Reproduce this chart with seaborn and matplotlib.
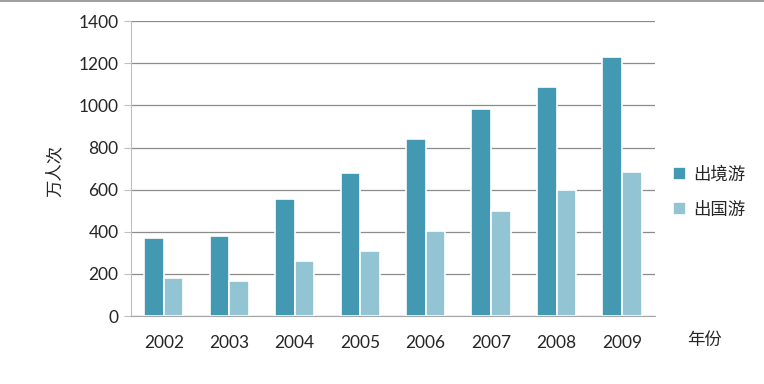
import matplotlib
matplotlib.use("Agg")
import matplotlib.pyplot as plt
import seaborn as sns
import pandas as pd
from matplotlib.lines import Line2D

# 数据 (从图中读取, 单位: 万人次)
years = ["2002", "2003", "2004", "2005", "2006", "2007", "2008", "2009"]
chujing = [370, 380, 555, 679, 840, 982, 1087, 1229]
chuguo = [180, 166, 261, 308, 403, 498, 598, 683]
series = ["出境游", "出国游"]
colors = ["#4399b1", "#93c4d4"]

df = pd.DataFrame({
    "年份": years * 2,
    "值": chujing + chuguo,
    "类型": [series[0]] * len(years) + [series[1]] * len(years),
})

sns.set_style("white")
plt.rcParams["font.family"] = ["Lato", "Noto Sans CJK SC", "DejaVu Sans"]
cjk = ["Noto Sans CJK SC", "DejaVu Sans"]

fig = plt.figure(figsize=(7.64, 3.84), dpi=100)
ax = fig.add_axes([0.1715, 0.177, 0.6855, 0.768])

sns.barplot(data=df, x="年份", y="值", hue="类型", palette=colors, saturation=1,
            width=0.6, edgecolor="white", linewidth=1.2, ax=ax, legend=True)

ax.set_ylim(0, 1400)
ax.set_xlim(-0.5, 7.5)
ax.set_yticks(range(0, 1401, 200))
ax.yaxis.grid(True, color="#8c8c8c", linewidth=0.9)
ax.set_axisbelow(True)

for s in ["top", "right"]:
    ax.spines[s].set_visible(False)
ax.spines["left"].set_color("#bfbfbf")
ax.spines["bottom"].set_color("#a6a6a6")
ax.tick_params(axis="y", left=True, length=5, color="#bfbfbf", labelsize=12.5, pad=4)
ax.tick_params(axis="x", bottom=False, labelsize=12.5, pad=10)

ax.set_xlabel("")
ax.set_ylabel("")
fig.text(0.072, 0.555, "万人次", rotation=90, ha="center", va="center",
         fontsize=12.5, family=cjk)
fig.text(0.922, 0.115, "年份", ha="center", va="center",
         fontsize=12.5, family=cjk)

leg = ax.legend(loc="center left", bbox_to_anchor=(1.005, 0.42), frameon=False,
                handlelength=0.75, handleheight=0.75, handletextpad=0.4, labelspacing=1.0,
                prop={"family": cjk, "size": 12.5})

# 顶部边框线
fig.add_artist(Line2D([0, 1], [0.997, 0.997], color="#8c8c8c", linewidth=1.2))

fig.savefig("out.png", dpi=100)
